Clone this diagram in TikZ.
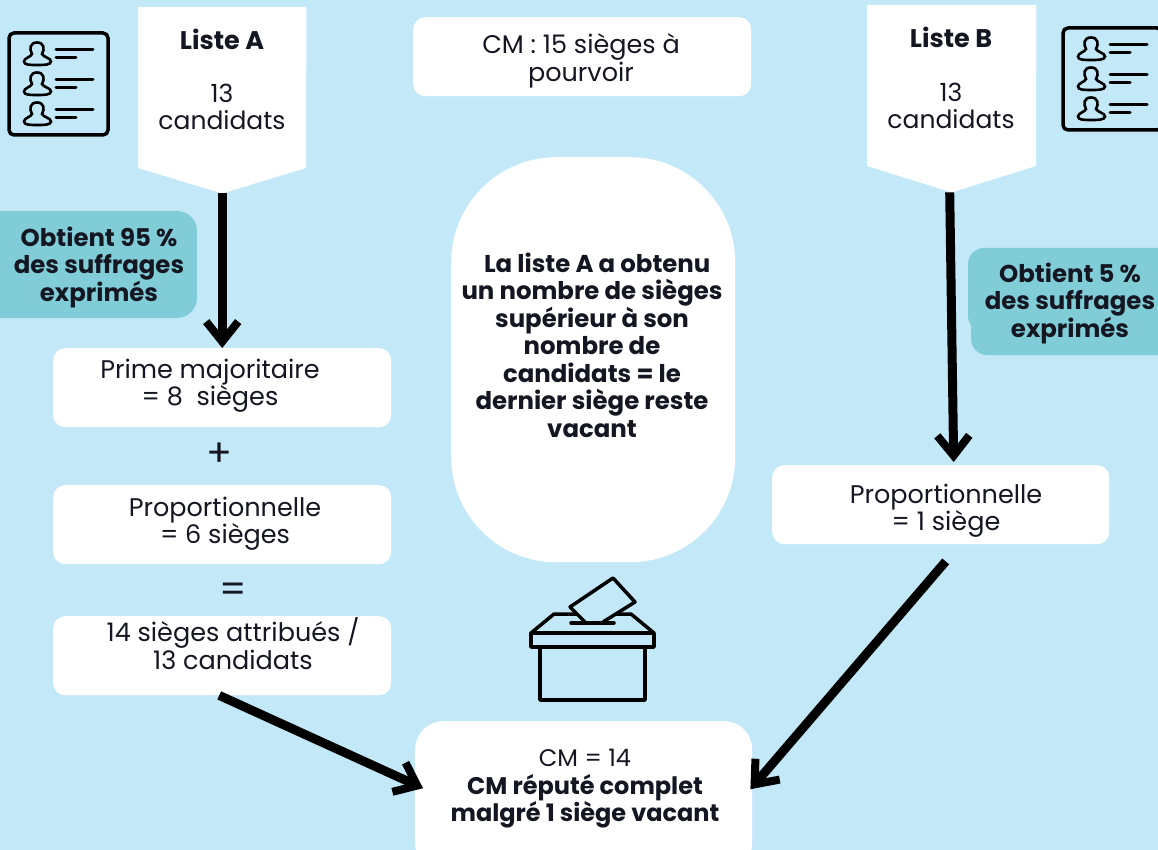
\documentclass[tikz,border=0pt]{standalone}
\usepackage{fontspec}
\setmainfont{Poppins}
\usetikzlibrary{arrows.meta}
\definecolor{bgblue}{HTML}{C3E9F9}
\definecolor{teal}{HTML}{80CDD8}
\definecolor{ink}{HTML}{141722}
\tikzset{
  x=1pt,y=-1pt,
  whitebox/.style={fill=white,draw=none,rounded corners=12pt,minimum width=338pt,minimum height=79pt,inner sep=0pt,anchor=north west},
  txt/.style={text=ink,align=center,inner sep=0pt,font=\fontsize{25.5}{27.5}\selectfont},
  txtb/.style={txt,font=\fontsize{24.4}{27.5}\selectfont\bfseries},
  flow/.style={line width=9pt,black,-{Straight Barb[length=20pt,width=32pt,line width=8pt]}},
  iconline/.style={line width=3pt,draw=black,line cap=round,line join=round},
  pics/card/.style={code={
    \draw[line width=3.5pt,black,rounded corners=5pt] (9,33) rectangle (108,135);
    \foreach \dy in {0,30,60}{
      \begin{scope}[yshift=-\dy pt]
      \draw[line width=2.6pt,black] (37,42.5) .. controls (30,42.5) and (29,49) .. (32,54) .. controls (31,57) and (24,58) .. (24,61.5) .. controls (24,65) and (30,65) .. (37,65) .. controls (44,65) and (51,65) .. (51,61.5) .. controls (51,58) and (43,57) .. (42,54) .. controls (45,49) and (44,42.5) .. (37,42.5) -- cycle;
      \draw[line width=3pt,black,line cap=round] (56,50) -- (93,50) (56,58) -- (76,58);
      \end{scope}}
  }}
}
\begin{document}
\begin{tikzpicture}
\useasboundingbox (0,0) rectangle (1158,850);
\fill[bgblue] (0,0) rectangle (1158,850);

% list headers
\node[minimum width=168pt,minimum height=186pt,inner sep=0pt,anchor=north west] (la) at (138,7) {};
\fill[white] (la.north west) -- (la.north east) -- (306,168) -- (la.south) -- (138,168) -- cycle;
\node[minimum width=169pt,minimum height=187pt,inner sep=0pt,anchor=north west] (lb) at (867,5) {};
\fill[white] (lb.north west) -- (lb.north east) -- (1036,166) -- (lb.south) -- (867,166) -- cycle;
\node[txtb,font=\fontsize{25.5}{27.5}\selectfont\bfseries] (la1) at (222,39) {Liste A};
\node[txt,font=\fontsize{25}{27.5}\selectfont] (la2) at (222,107) {13\\candidats};
\node[txtb,font=\fontsize{25.5}{27.5}\selectfont\bfseries] (lb1) at (951,37) {Liste B};
\node[txt,font=\fontsize{25}{27.5}\selectfont] (lb2) at (951,106) {13\\candidats};

\pic at (0,0) {card};
\pic at (1054,-5) {card};

% white boxes
\node[whitebox] (cm) at (413,17) {};
\node[txt] (cmt) at (581,61) {CM : 15 sièges à\\pourvoir};
\node[whitebox] (pm) at (53,348) {};
\node[txt] (pmt) at (210,385.5) {Prime majoritaire\\= 8\ \ sièges};
\node[whitebox] (pr) at (53,485) {};
\node[txt] (prt) at (225,523.5) {Proportionnelle\\= 6 sièges};
\node[whitebox] (at) at (53,616) {};
\node[txt] (att) at (233,643.5) {14 sièges attribués /\\13 candidats};
\node[whitebox,minimum width=337pt] (pb) at (772,465) {};
\node[txt] (pbt) at (946,510.5) {Proportionnelle\\= 1 siège};
\node[whitebox,rounded corners=28pt,minimum height=150pt,minimum width=337pt] (fin) at (415,721) {};
\node[txt,font=\fontsize{24}{27.5}\selectfont] (fint) at (585,789) {CM = 14\\{\bfseries CM réputé complet}\\{\bfseries malgré 1 siège vacant}};
\node[fill=white,rounded corners=105pt,minimum width=284pt,minimum height=405pt,inner sep=0pt,anchor=north west] (blob) at (451,157) {};
\node[txtb] (blobt) at (592,345) {\ \ La liste A a obtenu\\un nombre de sièges\\supérieur à son\\nombre de\\candidats = le\\dernier siège reste\\vacant};

% operators
\node[txt,font=\fontsize{38}{38}\selectfont] (plus) at (219,455) {+};
\node[txt,font=\fontsize{38}{38}\selectfont] (eq) at (233,593) {=};

% teal notes
\fill[teal,rounded corners=20pt] (-30,211) rectangle (197,318);
\node[txtb] (gl) at (99,267) {Obtient 95 \%\\des suffrages\\exprimés};
\fill[teal,rounded corners=16pt] (968,248) rectangle (1180,332);
\fill[teal,rounded corners=16pt] (971,290) rectangle (1180,355);
\node[txtb] (gr) at (1070,303) {Obtient 5 \%\\des suffrages\\exprimés};

% connectors
\draw[flow] (la.south) -- (pm.north -| la.south);
\draw[flow] ([xshift=-2pt]lb.south) -- ([xshift=13pt,yshift=3pt]pb.north);
\draw[flow] ([xshift=5pt,yshift=-17pt]pb.south) -- ([xshift=-2pt,yshift=7pt]fin.east);
\draw[flow] ([xshift=-3pt]at.south) -- ([xshift=8pt,yshift=8pt]fin.west);

% ballot box
\draw[iconline,line width=3.5pt] (540,647) rectangle (645,700);
\draw[iconline,line width=3.5pt] (531,633) rectangle (654,647);
\draw[iconline,line width=3.5pt] (531,633) -- (554,614) -- (631,614) -- (654,633);
\draw[iconline,line width=3.5pt,fill=bgblue] (585,622) -- (570,607) -- (613,578) -- (635,602) -- (603,622);
\draw[iconline,line width=3.5pt] (571,623) -- (614,623);
\end{tikzpicture}
\end{document}
